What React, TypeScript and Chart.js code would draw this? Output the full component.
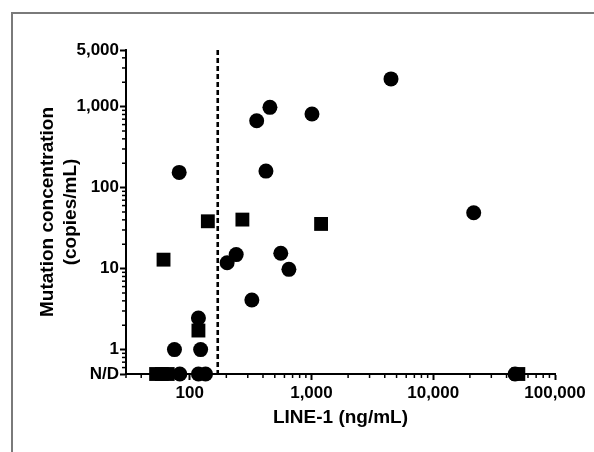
import React, { useEffect, useRef } from 'react';
import { Chart, registerables } from 'chart.js';

Chart.register(...registerables);

// Value used to place "not detected" samples on the log axis
const ND = 0.5;

// Circles (LINE-1 ng/mL, mutation copies/mL)
const circleLine1 = [82, 456, 355, 1010, 423, 4500, 21500, 203, 241, 560, 653, 324, 118, 75, 123, 83, 118, 135, 47000];
const circleConc = [154, 980, 670, 810, 160, 2200, 49, 11.8, 14.9, 15.5, 9.8, 4.1, 2.46, 1.0, 1.0, ND, ND, ND, ND];

// Squares
const squareLine1 = [141, 271, 1200, 61, 118, 53, 59, 66, 50000];
const squareConc = [38.4, 40.3, 35.6, 12.9, 1.72, ND, ND, ND, ND];

// Axes
const xMin = 30;
const xMax = 100000;
const yMin = ND;
const yMax = 5000;
const xTickValues = [100, 1000, 10000, 100000];
const xTickLabels = ['100', '1,000', '10,000', '100,000'];
const yTickValues = [ND, 1, 10, 100, 1000, 5000];
const yTickLabels = ['N/D', '1', '10', '100', '1,000', '5,000'];
const xMinorTicks = [30, 40, 50, 60, 70, 80, 90, 200, 300, 400, 500, 600, 700, 800, 900, 2000, 3000, 4000, 5000, 6000, 7000, 8000, 9000, 20000, 30000, 40000, 50000, 60000, 70000, 80000, 90000];
const yMinorTicks = [0.6, 0.7, 0.8, 0.9, 2, 3, 4, 5, 6, 7, 8, 9, 20, 30, 40, 50, 60, 70, 80, 90, 200, 300, 400, 500, 600, 700, 800, 900, 2000, 3000, 4000];

// Cut-off (dashed line)
const cutoffLine1 = 170;

const xTitle = 'LINE-1 (ng/mL)';
const yTitle = ['Mutation concentration', '(copies/mL)'];

const FONT = '"Liberation Sans", Arial, Helvetica, sans-serif';

const extrasPlugin = {
  id: 'extras',
  afterDatasetsDraw(chart: any) {
    const { ctx } = chart;
    const x = chart.scales.x;
    const y = chart.scales.y;
    ctx.save();
    // dashed cutoff line
    const cx = x.getPixelForValue(cutoffLine1);
    ctx.strokeStyle = '#000';
    ctx.lineWidth = 2.6;
    ctx.setLineDash([5, 3]);
    ctx.beginPath();
    ctx.moveTo(cx, y.getPixelForValue(yMax));
    ctx.lineTo(cx, y.getPixelForValue(yMin) - 1);
    ctx.stroke();
    ctx.setLineDash([]);
    // minor ticks
    ctx.lineWidth = 1.5;
    const xb = y.getPixelForValue(yMin);
    xMinorTicks.forEach((v) => {
      const px = x.getPixelForValue(v);
      ctx.beginPath();
      ctx.moveTo(px, xb);
      ctx.lineTo(px, xb + 4);
      ctx.stroke();
    });
    const yl = x.getPixelForValue(xMin);
    yMinorTicks.forEach((v) => {
      const py = y.getPixelForValue(v);
      ctx.beginPath();
      ctx.moveTo(yl, py);
      ctx.lineTo(yl - 4, py);
      ctx.stroke();
    });
    ctx.restore();
  },
};

export default function App() {
  const ref = useRef<HTMLCanvasElement | null>(null);

  useEffect(() => {
    if (!ref.current) return;
    const tickFont = { family: FONT, size: 17, weight: 'bold' as const };
    const titleFont = { family: FONT, size: 19, weight: 'bold' as const, lineHeight: 1.18 };
    const chart = new Chart(ref.current, {
      type: 'scatter',
      data: {
        datasets: [
          {
            label: 'circles',
            data: circleLine1.map((v, i) => ({ x: v, y: circleConc[i] })),
            pointStyle: 'circle',
            pointRadius: 7.5,
            pointBackgroundColor: '#000',
            pointBorderColor: '#000',
            pointBorderWidth: 0,
            clip: false as any,
          },
          {
            label: 'squares',
            data: squareLine1.map((v, i) => ({ x: v, y: squareConc[i] })),
            pointStyle: 'rect',
            pointRadius: 9.8,
            pointBackgroundColor: '#000',
            pointBorderColor: '#000',
            pointBorderWidth: 0,
            clip: false as any,
          },
        ],
      },
      options: {
        responsive: false,
        animation: false,
        devicePixelRatio: 1,
        layout: { padding: { top: 50, right: 39, bottom: 0, left: 0 } },
        plugins: { legend: { display: false }, tooltip: { enabled: false } },
        scales: {
          x: {
            type: 'logarithmic',
            position: 'bottom',
            min: xMin,
            max: xMax,
            afterBuildTicks: (s: any) => {
              s.ticks = xTickValues.map((v) => ({ value: v }));
            },
            afterFit: (s: any) => {
              s.height = 78;
            },
            ticks: {
              autoSkip: false,
              maxRotation: 0,
              color: '#000',
              font: tickFont,
              padding: 3,
              callback: (v: any) => {
                const i = xTickValues.indexOf(Number(v));
                return i >= 0 ? xTickLabels[i] : '';
              },
            },
            grid: { display: true, drawOnChartArea: false, drawTicks: true, tickLength: 6, tickWidth: 2, tickColor: '#000' },
            border: { display: true, color: '#000', width: 2 },
            title: { display: true, text: xTitle, color: '#000', font: titleFont, padding: { top: 0, bottom: 23 } },
          },
          y: {
            type: 'logarithmic',
            position: 'left',
            min: yMin,
            max: yMax,
            afterBuildTicks: (s: any) => {
              s.ticks = yTickValues.map((v) => ({ value: v }));
            },
            afterFit: (s: any) => {
              s.width = 126;
            },
            ticks: {
              autoSkip: false,
              color: '#000',
              font: tickFont,
              padding: 1,
              callback: (v: any) => {
                const i = yTickValues.indexOf(Number(v));
                return i >= 0 ? yTickLabels[i] : '';
              },
            },
            grid: { display: true, drawOnChartArea: false, drawTicks: true, tickLength: 6, tickWidth: 2, tickColor: '#000' },
            border: { display: true, color: '#000', width: 2 },
            title: { display: true, text: yTitle, color: '#000', font: titleFont, padding: { top: 37, bottom: 0 } },
          },
        },
      },
      plugins: [extrasPlugin],
    });
    return () => chart.destroy();
  }, []);

  return (
    <div style={{ position: 'absolute', left: 0, top: 0, width: 594, height: 452, background: '#fff' }}>
      <div
        style={{
          position: 'absolute',
          left: 11,
          top: 12,
          right: 0,
          bottom: 0,
          borderTop: '2px solid #7a7a7a',
          borderLeft: '2px solid #7a7a7a',
        }}
      />
      <canvas ref={ref} width={594} height={452} style={{ position: 'absolute', left: 0, top: 0, width: 594, height: 452 }} />
    </div>
  );
}
